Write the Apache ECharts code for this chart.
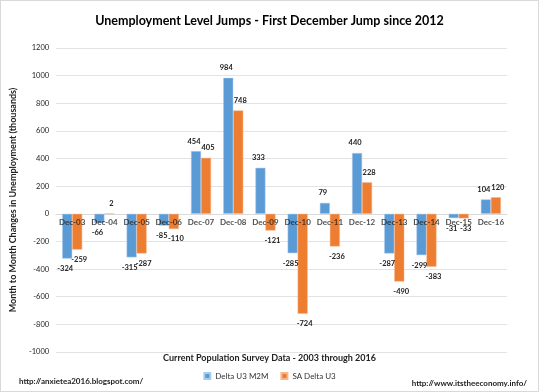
<!DOCTYPE html>
<html><head><meta charset="utf-8">
<script src="https://cdn.jsdelivr.net/npm/echarts@6/dist/echarts.min.js"></script>
<style>html,body{margin:0;padding:0;background:#fff}#c{width:539px;height:392px;box-sizing:border-box;border:1px solid #d9d9d9}</style>
</head><body><div id="c"></div>
<script>
var categories = ['Dec-03','Dec-04','Dec-05','Dec-06','Dec-07','Dec-08','Dec-09','Dec-10','Dec-11','Dec-12','Dec-13','Dec-14','Dec-15','Dec-16'];
var deltaU3M2M = [-324, -66, -315, -85, 454, 984, 333, -285, 79, 440, -287, -299, -31, 104];
var saDeltaU3 = [-259, 2, -287, -110, 405, 748, -121, -724, -236, 228, -490, -383, -33, 120];
var yTicks = {min: -1000, max: 1200, interval: 200};

var FONT = 'Lato, "Open Sans", sans-serif';
function mk(vals, shift){
  return vals.map(function(v){
    return {value: v, label: {position: v >= 0 ? 'top' : 'bottom', offset: [shift, 0]}};
  });
}
var chart = echarts.init(document.getElementById('c'));
chart.setOption({
  animation: false,
  textStyle: {fontFamily: FONT},
  title: {text: 'Unemployment Level Jumps - First December Jump since 2012', left: 'center', top: 8,
    textStyle: {fontSize: 12.5, fontWeight: 'bold', color: '#000', fontFamily: FONT}},
  grid: {left: 38, right: 31, top: 47, bottom: 39},
  legend: {bottom: 6, left: 'center', icon: 'rect', itemWidth: 6, itemHeight: 6, itemGap: 12,
    data: ['Delta U3 M2M', 'SA Delta U3'],
    textStyle: {fontSize: 8, color: '#333', fontFamily: FONT}},
  xAxis: {type: 'category', data: categories,
    axisLine: {onZero: true, lineStyle: {color: '#d9d9d9'}},
    axisTick: {show: false},
    axisLabel: {show: false}},
  yAxis: {type: 'value', min: yTicks.min, max: yTicks.max, interval: yTicks.interval,
    name: 'Month to Month Changes in Unemployment (thousands)', nameLocation: 'middle', nameGap: 27,
    nameTextStyle: {fontSize: 9, fontWeight: 'bold', color: '#222'},
    axisLabel: {fontSize: 7.5, color: '#222', margin: 7, formatter: function(v){ return String(v); }},
    splitLine: {lineStyle: {color: '#e3e3e3'}},
    axisLine: {show: false}, axisTick: {show: false}},
  series: [
    {name: 'Delta U3 M2M', type: 'bar', data: mk(deltaU3M2M, -2), barWidth: 10, barGap: '0%',
      itemStyle: {color: '#5B9BD5', borderColor: '#a9cbee', borderWidth: 0.5},
      label: {show: true, fontSize: 7.5, fontWeight: 'bold', color: '#222', distance: 6}},
    {name: 'SA Delta U3', type: 'bar', data: mk(saDeltaU3, 2), barWidth: 10,
      itemStyle: {color: '#ED7D31', borderColor: '#f6b58a', borderWidth: 0.5},
      label: {show: true, fontSize: 7.5, fontWeight: 'bold', color: '#222', distance: 6}},
    {name: 'catLabels', type: 'scatter', z: 10, silent: true, symbolSize: 0,
      data: categories.map(function(c){ return [c, 0]; }),
      label: {show: true, position: 'bottom', distance: 5, fontSize: 8, fontWeight: 'bold', color: '#222',
        formatter: function(p){ return p.value[0]; }}}
  ],
  graphic: [
    {type: 'text', left: 'center', top: 353, style: {text: 'Current Population Survey Data - 2003 through 2016',
      font: 'bold 9px ' + FONT, fill: '#222'}},
    {type: 'text', left: 18, top: 376, style: {text: 'http://anxietea2016.blogspot.com/', font: 'bold 8px ' + FONT, fill: '#222'}},
    {type: 'text', right: 11, top: 378, style: {text: 'http://www.itstheeconomy.info/', font: 'bold 8px ' + FONT, fill: '#222'}}
  ]
});
</script></body></html>
